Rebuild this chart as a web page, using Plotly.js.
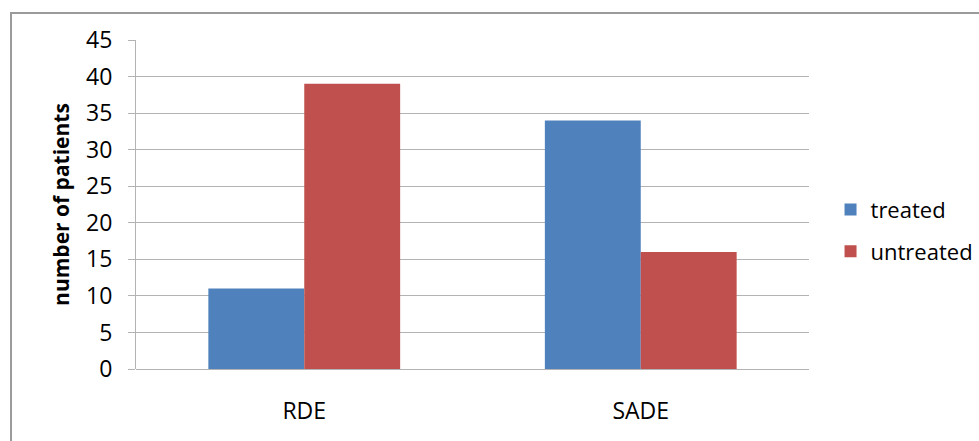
<!DOCTYPE html>
<html><head><meta charset="utf-8">
<script src="https://cdn.plot.ly/plotly-3.0.1.min.js"></script>
<style>body{margin:0;background:#fff}#c{width:979px;height:441px}</style>
</head><body><div id="c"></div>
<script>
const categories = ["RDE", "SADE"];
const treated = [11, 34];
const untreated = [39, 16];
const yTicks = [0,5,10,15,20,25,30,35,40,45];

const font = "Open Sans, Liberation Sans, sans-serif";
const data = [
  {type:"bar", name:"treated", legendgroup:"a", x:categories, y:treated, marker:{color:"#4f81bd"}},
  {type:"bar", name:"untreated", legendgroup:"b", x:categories, y:untreated, marker:{color:"#c0504d"}}
];
const layout = {
  width:979, height:441,
  margin:{l:136, r:170, t:40, b:72, autoexpand:false},
  paper_bgcolor:"#fff", plot_bgcolor:"#fff",
  barmode:"group", bargap:0.43, bargroupgap:0,
  font:{family:font, size:20, color:"#000"},
  xaxis:{showgrid:false, showline:false, ticks:"", tickfont:{size:23}, ticklabelstandoff:26},
  yaxis:{range:[0,45], tickvals:yTicks, showgrid:true, gridcolor:"#b3b3b3", gridwidth:1,
    showline:true, linecolor:"#b3b3b3", ticks:"outside", ticklen:7, tickcolor:"#b3b3b3",
    zeroline:true, zerolinecolor:"#b3b3b3", tickfont:{size:23}, ticklabelstandoff:11,
    title:{text:"<b>number of patients</b>", font:{size:21}, standoff:10}},
  legend:{x:1.032, y:0.42, xanchor:"left", yanchor:"middle", font:{size:22},
    traceorder:"grouped", tracegroupgap:10, itemwidth:30},
  showlegend:true,
  shapes:[{type:"rect", xref:"paper", yref:"paper", x0:-0.1857, x1:2, y0:-1, y1:1.082,
    line:{color:"#9a9a9a", width:2}, fillcolor:"rgba(0,0,0,0)", layer:"below"}]
};
Plotly.newPlot("c", data, layout, {staticPlot:true});
</script></body></html>
